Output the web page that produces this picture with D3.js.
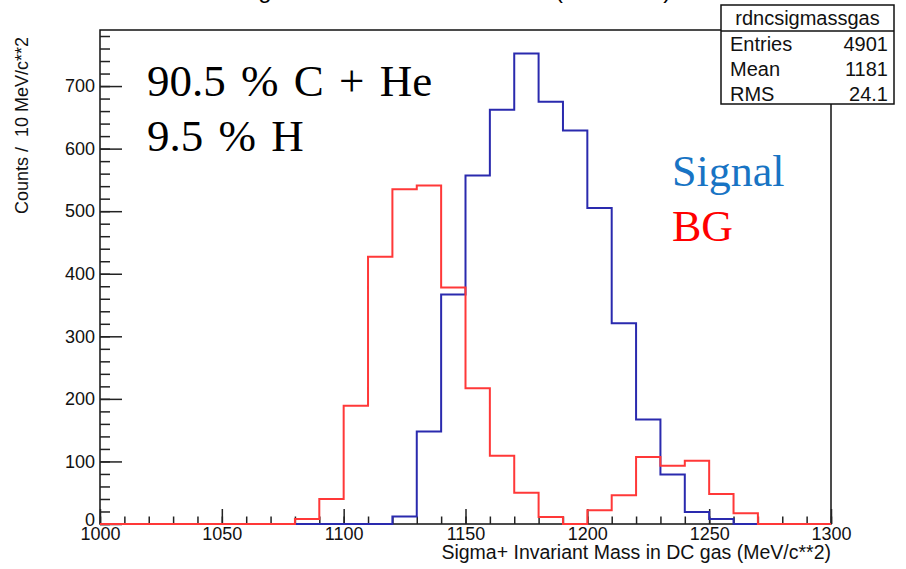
<!DOCTYPE html>
<html>
<head>
<meta charset="utf-8">
<script src="https://cdn.jsdelivr.net/npm/d3@7"></script>
<style>
  html, body { margin: 0; padding: 0; background: #fff; }
  svg { display: block; }
  text { white-space: pre; }
</style>
</head>
<body>
<svg id="chart" width="906" height="569"></svg>
<script>
// Histogram binning: 30 bins of 10 MeV/c^2 from 1000 to 1300
const binStart = 1000;
const binWidth = 10;
const binCount = 30;

// Signal counts per bin (rdncsigmassgas)
const signalCounts = [0, 0, 0, 0, 0, 0, 0, 0, 0, 0, 0, 0,
  12, 148, 367, 557, 662, 752, 675, 629, 505, 321, 167, 79, 19, 8, 0, 0, 0, 0];

// Background counts per bin
const bgCounts = [0, 0, 0, 0, 0, 0, 0, 0, 8, 40, 189, 427,
  535, 541, 378, 217, 109, 50, 11, 0, 22, 46, 107, 93, 101, 48, 17, 0, 0, 0];

const xTickValues = [1000, 1050, 1100, 1150, 1200, 1250, 1300];
const yTickValues = [0, 100, 200, 300, 400, 500, 600, 700];

const statsTitle = "rdncsigmassgas";
const statsRows = [["Entries", "4901"], ["Mean", "1181"], ["RMS", "24.1"]];

const histTitle = "Sigma+ Invariant Mass in DC (MeV/c**2)";
const xTitle = "Sigma+ Invariant Mass in DC gas (MeV/c**2)";
const yTitle = "Counts /  10 MeV/c**2";
const noteLines = ["90.5 % C + He", "9.5 % H"];
const legendLines = [["Signal", "#1874c4"], ["BG", "#ff0000"]];

const sans = "'Liberation Sans', Arial, Helvetica, sans-serif";
const serif = "'Liberation Serif', 'Times New Roman', serif";

const svg = d3.select("#chart");
const frame = { left: 100, right: 831, top: 30, bottom: 524 };

const x = d3.scaleLinear().domain([1000, 1300]).range([frame.left, frame.right]);
const yMax = 1.05 * d3.max(signalCounts.concat(bgCounts));
const y = d3.scaleLinear().domain([0, yMax]).range([frame.bottom, frame.top]);

// Histogram title (sits mostly above the page edge)
svg.append("text")
  .attr("x", 237).attr("y", -2)
  .attr("font-family", sans).attr("font-size", 24)
  .attr("fill", "#000")
  .text(histTitle);

// Frame
svg.append("rect")
  .attr("x", frame.left).attr("y", frame.top)
  .attr("width", frame.right - frame.left).attr("height", frame.bottom - frame.top)
  .attr("fill", "none").attr("stroke", "#111").attr("stroke-width", 1.5);

// X axis: ticks pointing into the frame
const xMinor = d3.range(1000, 1301, 10);
const xAxisG = svg.append("g").attr("transform", `translate(0,${frame.bottom})`);
xAxisG.call(d3.axisTop(x).tickValues(xMinor).tickSize(7.5).tickFormat(""))
  .call(g => g.select(".domain").remove())
  .call(g => g.selectAll("line").attr("stroke", "#222").attr("stroke-width", 1.5));
xAxisG.append("g")
  .call(d3.axisTop(x).tickValues(xTickValues).tickSize(15).tickFormat(""))
  .call(g => g.select(".domain").remove())
  .call(g => g.selectAll("line").attr("stroke", "#222").attr("stroke-width", 1.5));
const xLab = svg.append("g").attr("transform", `translate(0,${frame.bottom})`)
  .call(d3.axisBottom(x).tickValues(xTickValues).tickSize(0).tickPadding(3).tickFormat(d3.format("d")));
xLab.select(".domain").remove();
xLab.selectAll("text").attr("font-family", sans).attr("font-size", 18).attr("fill", "#111");

// Y axis: ticks pointing into the frame
const yMinor = d3.range(0, yMax, 20);
const yAxisG = svg.append("g").attr("transform", `translate(${frame.left},0)`);
yAxisG.call(d3.axisRight(y).tickValues(yMinor).tickSize(10).tickFormat(""))
  .call(g => g.select(".domain").remove())
  .call(g => g.selectAll("line").attr("stroke", "#222").attr("stroke-width", 1.5));
yAxisG.append("g")
  .call(d3.axisRight(y).tickValues(yTickValues).tickSize(22).tickFormat(""))
  .call(g => g.select(".domain").remove())
  .call(g => g.selectAll("line").attr("stroke", "#222").attr("stroke-width", 1.5));
const yLab = svg.append("g").attr("transform", `translate(${frame.left},0)`)
  .call(d3.axisLeft(y).tickValues(yTickValues).tickSize(0).tickPadding(5).tickFormat(d3.format("d")));
yLab.select(".domain").remove();
yLab.selectAll("text").attr("font-family", sans).attr("font-size", 18).attr("fill", "#111");
// the zero label sits a little above the corner, clear of the 1000 label
yLab.selectAll(".tick").filter(d => d === 0).select("text").attr("dy", "0.1em");

// Axis titles
svg.append("text")
  .attr("x", frame.right).attr("y", 559)
  .attr("text-anchor", "end")
  .attr("font-family", sans).attr("font-size", 19.5).attr("fill", "#111")
  .text(xTitle);
svg.append("text")
  .attr("transform", `translate(28,37) rotate(-90)`)
  .attr("text-anchor", "end")
  .attr("font-family", sans).attr("font-size", 18).attr("fill", "#111")
  .text(yTitle);

// Step outline of a histogram, running along zero outside filled bins
function stepPath(counts) {
  const pts = [[x(binStart), y(0)]];
  counts.forEach((v, i) => {
    const lo = binStart + i * binWidth, hi = lo + binWidth;
    pts.push([x(lo), y(v)], [x(hi), y(v)]);
  });
  pts.push([x(binStart + binCount * binWidth), y(0)]);
  return d3.line()(pts);
}

svg.append("path")
  .attr("d", stepPath(signalCounts))
  .attr("fill", "none").attr("stroke", "#2a2aae").attr("stroke-width", 2);
svg.append("path")
  .attr("d", stepPath(bgCounts))
  .attr("fill", "none").attr("stroke", "#ff3838").attr("stroke-width", 2);

// Stats box
const sb = { x: 721, y: 5, w: 173, h: 99, head: 26 };
svg.append("rect")
  .attr("x", sb.x).attr("y", sb.y).attr("width", sb.w).attr("height", sb.h)
  .attr("fill", "#fff").attr("stroke", "#111").attr("stroke-width", 1.5);
svg.append("line")
  .attr("x1", sb.x).attr("x2", sb.x + sb.w)
  .attr("y1", sb.y + sb.head).attr("y2", sb.y + sb.head)
  .attr("stroke", "#111").attr("stroke-width", 1.5);
svg.append("text")
  .attr("x", sb.x + sb.w / 2).attr("y", sb.y + 20)
  .attr("text-anchor", "middle")
  .attr("font-family", sans).attr("font-size", 20).attr("fill", "#111")
  .text(statsTitle);
statsRows.forEach((r, i) => {
  const by = sb.y + 46 + i * 25;
  svg.append("text").attr("x", sb.x + 9).attr("y", by)
    .attr("font-family", sans).attr("font-size", 20).attr("fill", "#111").text(r[0]);
  svg.append("text").attr("x", sb.x + sb.w - 6).attr("y", by)
    .attr("text-anchor", "end")
    .attr("font-family", sans).attr("font-size", 20).attr("fill", "#111").text(r[1]);
});

// Gas composition note
noteLines.forEach((t, i) => {
  svg.append("text")
    .attr("x", 147).attr("y", 96 + i * 55)
    .attr("font-family", serif).attr("font-size", 45).attr("fill", "#000")
    .attr("word-spacing", 4)
    .text(t);
});

// Series labels
legendLines.forEach((d, i) => {
  svg.append("text")
    .attr("x", 672).attr("y", 186 + i * 55)
    .attr("font-family", serif).attr("font-size", 44).attr("fill", d[1])
    .text(d[0]);
});
</script>
</body>
</html>
